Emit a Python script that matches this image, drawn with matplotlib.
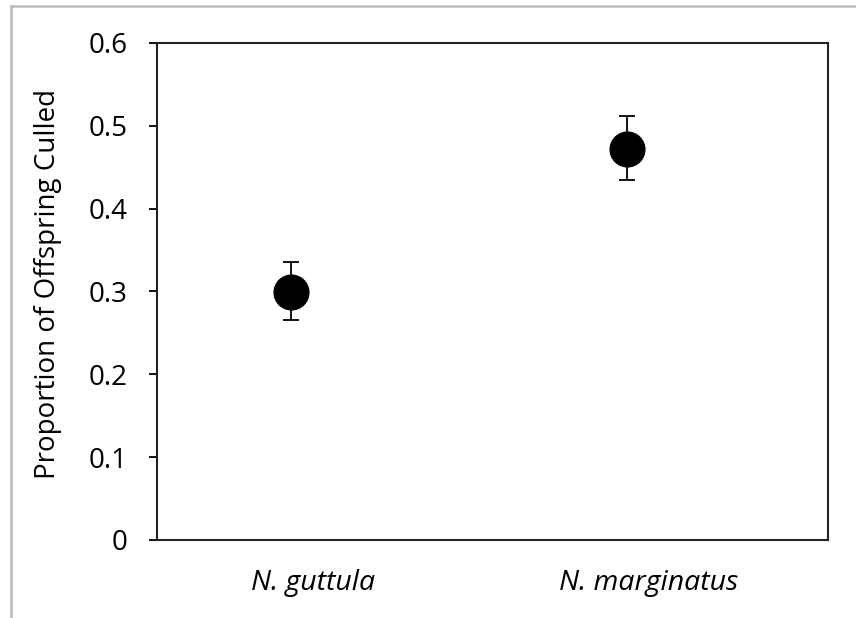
import numpy as np
import matplotlib
matplotlib.use('Agg')
import matplotlib.pyplot as plt
from matplotlib.lines import Line2D
from matplotlib.transforms import ScaledTranslation

species = ['N. guttula', 'N. marginatus']
culled = [0.299, 0.472]
err_low = [0.034, 0.037]
err_high = [0.037, 0.040]
yticks = [0, 0.1, 0.2, 0.3, 0.4, 0.5, 0.6]

plt.rcParams['font.family'] = ['Open Sans', 'DejaVu Sans']

fig = plt.figure(figsize=(8.56, 6.18), dpi=100)
ax = fig.add_axes([157/856, 1-540/618, (828-157)/856, (540-43)/618])

x = np.arange(len(species))
ax.errorbar(x, culled, yerr=[err_low, err_high], fmt='o', color='black',
            markersize=25, ecolor='black', elinewidth=1.3, capsize=6, capthick=1.3)

ax.set_xlim(-0.4, 1.6)
ax.set_ylim(0, 0.6)
ax.set_yticks(yticks)
ax.set_yticklabels(['0'] + ['%.1f' % v for v in yticks[1:]], fontsize=20)
ax.set_xticks(x)
ax.set_xticklabels(species, fontsize=20.5, style='italic')
ax.tick_params(axis='x', length=0, pad=21)
ax.tick_params(axis='y', length=6, width=1.3, direction='out', pad=15)
# category labels sit a little right of the markers in the original
for lbl in ax.get_xticklabels():
    lbl.set_transform(lbl.get_transform() + ScaledTranslation(0.22, 0, fig.dpi_scale_trans))
for s in ax.spines.values():
    s.set_linewidth(1.5)
    s.set_color('#222222')
ax.set_ylabel('Proportion of Offspring Culled', fontsize=20)
ax.yaxis.set_label_coords(-0.142, 0.516)

# grey outer frame
fig.add_artist(Line2D([11/856, 11/856], [0, 1-6/618], transform=fig.transFigure, color='#bbbbbb', lw=1.8))
fig.add_artist(Line2D([11/856, 1], [1-6/618, 1-6/618], transform=fig.transFigure, color='#bbbbbb', lw=1.8))

fig.savefig('out.png', dpi=100)
